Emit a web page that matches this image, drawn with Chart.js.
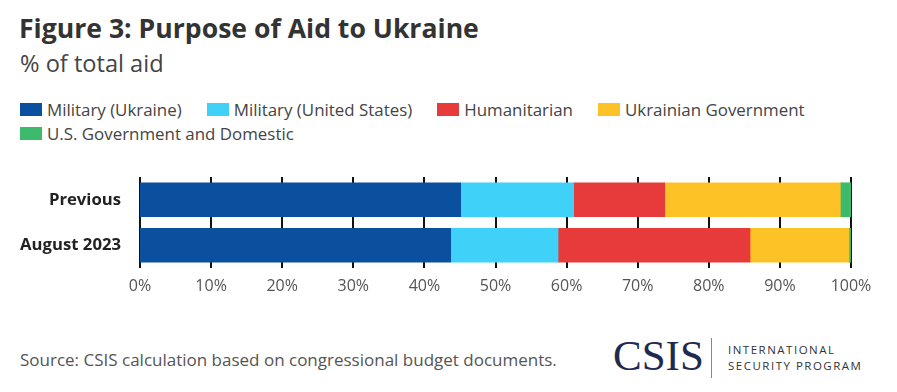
<!DOCTYPE html>
<html>
<head>
<meta charset="utf-8">
<script src="https://cdn.jsdelivr.net/npm/chart.js@4.4.0/dist/chart.umd.min.js"></script>
<style>
  html, body { margin: 0; padding: 0; background: #fff; }
  body { width: 897px; height: 392px; position: relative; overflow: hidden; font-family: "Open Sans", sans-serif; color: #333; }
  #title { position: absolute; left: 19px; top: 10px; font-size: 26.6px; line-height: 36px; font-weight: 700; color: #333; white-space: nowrap; }
  #subtitle { position: absolute; left: 20px; top: 47px; font-size: 23.6px; line-height: 32px; color: #444; white-space: nowrap; }
  #legend { position: absolute; left: 20px; top: 97px; width: 870px; }
  .lrow { height: 24px; display: flex; align-items: center; white-space: nowrap; }
  .litem { display: flex; align-items: center; margin-right: 25px; font-size: 16.9px; color: #444; }
  .lbox { width: 22px; height: 13px; margin-right: 5px; }
  #chartwrap { position: absolute; left: 0; top: 148px; width: 897px; height: 152px; }
  #source { position: absolute; left: 20px; top: 349px; font-size: 17px; line-height: 22px; color: #555; white-space: nowrap; }
  #csis { position: absolute; left: 613px; top: 331px; font-family: "Liberation Serif", "DejaVu Serif", serif; font-size: 43px; color: #1f2a4f; }
  #vline { position: absolute; left: 711px; top: 338px; width: 1px; height: 40px; background: #888; }
  #isp { position: absolute; left: 728px; top: 342px; font-family: "Open Sans", sans-serif; font-size: 11.5px; line-height: 16px; letter-spacing: 1.5px; color: #333; }
</style>
</head>
<body>
<div id="title">Figure 3: Purpose of Aid to Ukraine</div>
<div id="subtitle">% of total aid</div>
<div id="legend"></div>
<div id="chartwrap"><canvas id="c"></canvas></div>
<div id="source">Source: CSIS calculation based on congressional budget documents.</div>
<div id="csis">CSIS</div>
<div id="vline"></div>
<div id="isp">INTERNATIONAL<br>SECURITY PROGRAM</div>
<script>
const categories = ["Previous", "August 2023"];
const seriesNames = ["Military (Ukraine)", "Military (United States)", "Humanitarian", "Ukrainian Government", "U.S. Government and Domestic"];
const militaryUkraine = [45.1, 43.7];
const militaryUS = [15.9, 15.1];
const humanitarian = [12.8, 27.0];
const ukrainianGov = [24.7, 13.9];
const usGovDomestic = [1.5, 0.3];
const xTicks = [0, 10, 20, 30, 40, 50, 60, 70, 80, 90, 100];
const colors = ["#0a509f", "#3fd1f8", "#e63b3a", "#fdc326", "#3dbb6d"];

const seriesValues = [militaryUkraine, militaryUS, humanitarian, ukrainianGov, usGovDomestic];

const legend = document.getElementById('legend');
const rows = [[0,1,2,3],[4]];
rows.forEach(r => {
  const row = document.createElement('div'); row.className = 'lrow';
  r.forEach(i => {
    const it = document.createElement('div'); it.className = 'litem';
    const b = document.createElement('div'); b.className = 'lbox'; b.style.background = colors[i];
    const t = document.createElement('span'); t.textContent = seriesNames[i];
    it.appendChild(b); it.appendChild(t); row.appendChild(it);
  });
  legend.appendChild(row);
});

// draw vertical gridlines behind the bars, using the x scale
const gridBehind = {
  id: 'gridBehind',
  beforeDatasetsDraw(chart) {
    const { ctx, chartArea, scales } = chart;
    ctx.save();
    ctx.strokeStyle = '#111';
    ctx.lineWidth = 2;
    xTicks.forEach(v => {
      const x = Math.round(scales.x.getPixelForValue(v));
      ctx.beginPath();
      ctx.moveTo(x, chartArea.top);
      ctx.lineTo(x, chartArea.bottom);
      ctx.stroke();
    });
    ctx.restore();
  }
};

new Chart(document.getElementById('c'), {
  type: 'bar',
  data: {
    labels: categories,
    datasets: seriesValues.map((v, i) => ({
      label: seriesNames[i],
      data: v,
      backgroundColor: colors[i],
      borderWidth: 0,
      barThickness: 34
    }))
  },
  plugins: [gridBehind],
  options: {
    indexAxis: 'y',
    responsive: true,
    maintainAspectRatio: false,
    animation: false,
    layout: { padding: { top: 10, right: 46, left: 0, bottom: 0 } },
    plugins: { legend: { display: false }, tooltip: { enabled: false } },
    scales: {
      x: {
        stacked: true,
        min: 0, max: 100,
        afterBuildTicks: (s) => { s.ticks = xTicks.map(v => ({ value: v })); },
        afterFit: (s) => { s.height = 32; },
        grid: { display: false, drawTicks: false },
        border: { display: false },
        ticks: {
          padding: 9,
          color: '#555',
          font: { family: '"Open Sans", sans-serif', size: 16 },
          callback: (v) => v + '%'
        }
      },
      y: {
        stacked: true,
        afterFit: (s) => { s.width = 140; },
        grid: { display: false, drawTicks: false },
        border: { display: false },
        ticks: {
          padding: 19,
          color: '#222',
          font: { family: '"Open Sans", sans-serif', size: 16.7, weight: 'bold' }
        }
      }
    }
  }
});
</script>
</body>
</html>
